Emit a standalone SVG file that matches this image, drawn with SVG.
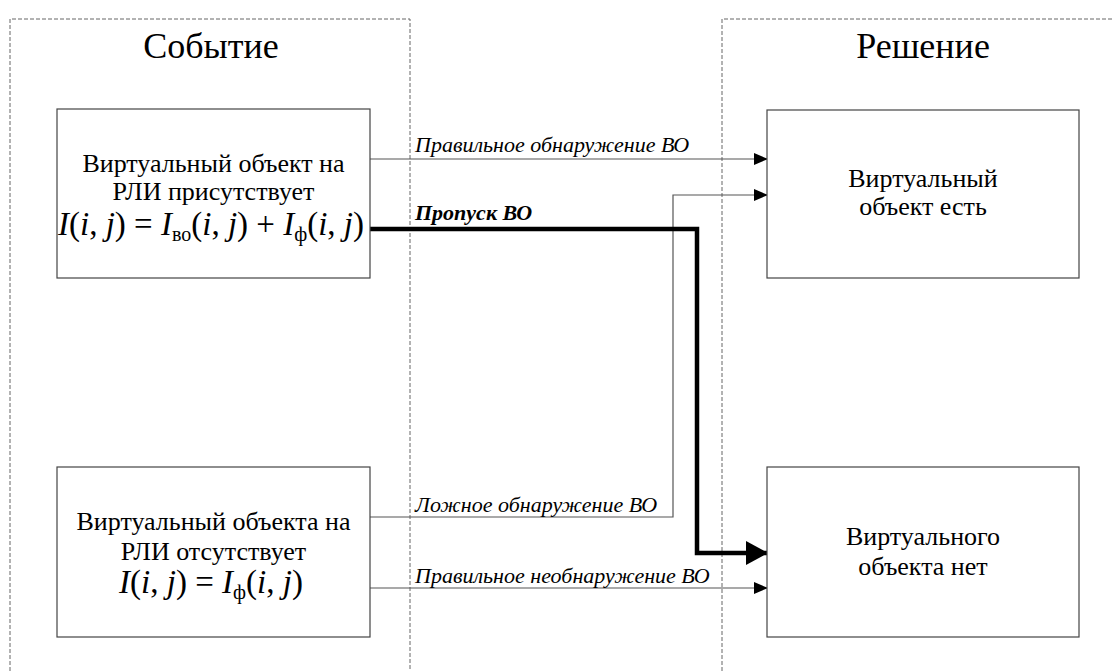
<svg xmlns="http://www.w3.org/2000/svg" width="1113" height="671" viewBox="0 0 1113 671">
<defs>
<style>
.cont{fill:none;stroke:#666;stroke-width:1;stroke-dasharray:4,2}
.box{fill:#fff;stroke:#444;stroke-width:1.2}
.t{font-family:'Liberation Serif','DejaVu Serif',serif;fill:#000;text-anchor:middle}
.hdr{font-size:36px}
.bt{font-size:26px}
.f{font-size:33px}
.sub{font-size:20px}
.it{font-style:italic}
.lbl{font-family:'Liberation Serif','DejaVu Serif',serif;font-style:italic;font-size:22px;fill:#000}
.ln{fill:none;stroke:#555;stroke-width:1.2}
.thick{fill:none;stroke:#000;stroke-width:4.5}
</style>
<marker id="ah" markerWidth="14" markerHeight="12" refX="13" refY="6" orient="auto" markerUnits="userSpaceOnUse"><path d="M0,0 L14,6 L0,12 Z" fill="#000"/></marker>
<marker id="ahb" markerWidth="22" markerHeight="24" refX="21" refY="12" orient="auto" markerUnits="userSpaceOnUse"><path d="M0,0 L22,12 L0,24 Z" fill="#000"/></marker>
</defs>
<rect width="1113" height="671" fill="#fff"/>
<g id="event-zone">
<path class="cont" d="M10,671 V19 H410 V671"/>
<text class="t hdr" x="211" y="58">Событие</text>
</g>
<g id="decision-zone">
<path class="cont" d="M722,671 V19 H1113"/>
<text class="t hdr" x="923" y="58">Решение</text>
</g>
<g id="connectors">
<path class="ln" d="M370,159 H767" marker-end="url(#ah)"/>
<path class="ln" d="M370,517 H673 V195 H767" marker-end="url(#ah)"/>
<path class="thick" d="M370,229 H697 V553 H767" marker-end="url(#ahb)"/>
<path class="ln" d="M370,588 H767" marker-end="url(#ah)"/>
<text class="lbl" x="415" y="152">Правильное обнаружение ВО</text>
<text class="lbl" x="415" y="220" font-weight="bold">Пропуск ВО</text>
<text class="lbl" x="415" y="512">Ложное обнаружение ВО</text>
<text class="lbl" x="415" y="583">Правильное необнаружение ВО</text>
</g>
<g id="node-present">
<rect class="box" x="57" y="109" width="313" height="169"/>
<text class="t bt" x="213.5" y="172">Виртуальный объект на</text>
<text class="t bt" x="213.5" y="200">РЛИ присутствует</text>
<text class="t f" x="211" y="235"><tspan class="it">I</tspan>(<tspan class="it">i</tspan>, <tspan class="it">j</tspan>) = <tspan class="it">I</tspan><tspan class="sub" dy="6">во</tspan><tspan dy="-6">(</tspan><tspan class="it">i</tspan>, <tspan class="it">j</tspan>) + <tspan class="it">I</tspan><tspan class="sub" dy="6">ф</tspan><tspan dy="-6">(</tspan><tspan class="it">i</tspan>, <tspan class="it">j</tspan>)</text>
</g>
<g id="node-absent">
<rect class="box" x="57" y="467" width="313" height="170"/>
<text class="t bt" x="213.5" y="530">Виртуальный объекта на</text>
<text class="t bt" x="213.5" y="560">РЛИ отсутствует</text>
<text class="t f" x="211" y="593"><tspan class="it">I</tspan>(<tspan class="it">i</tspan>, <tspan class="it">j</tspan>) = <tspan class="it">I</tspan><tspan class="sub" dy="6">ф</tspan><tspan dy="-6">(</tspan><tspan class="it">i</tspan>, <tspan class="it">j</tspan>)</text>
</g>
<g id="node-yes">
<rect class="box" x="767" y="110" width="312" height="168"/>
<text class="t bt" x="923" y="187">Виртуальный</text>
<text class="t bt" x="923" y="215">объект есть</text>
</g>
<g id="node-no">
<rect class="box" x="767" y="467" width="312" height="170"/>
<text class="t bt" x="923" y="545">Виртуального</text>
<text class="t bt" x="923" y="575">объекта нет</text>
</g>
</svg>
